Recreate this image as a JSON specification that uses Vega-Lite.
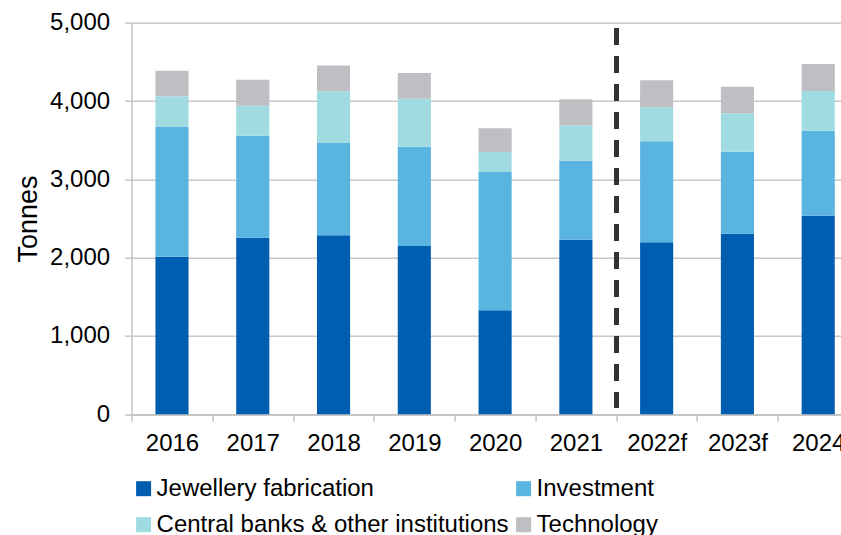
{
  "$schema": "https://vega.github.io/schema/vega-lite/v6.json",
  "width": 727,
  "height": 391.6,
  "autosize": {"type": "none"},
  "padding": {"left": 131.6, "top": 22.7, "right": 0, "bottom": 130},
  "background": "white",
  "config": {
    "font": "Liberation Sans",
    "view": {"stroke": null},
    "axis": {"labelColor": "#000000", "titleColor": "#000000", "labelFont": "Liberation Sans", "titleFont": "Liberation Sans"}
  },
  "data": {
    "values": [
      {"year": "2016", "category": "Jewellery fabrication", "rank": 1, "value": 2012},
      {"year": "2016", "category": "Investment", "rank": 2, "value": 1656},
      {"year": "2016", "category": "Central banks & other institutions", "rank": 3, "value": 392},
      {"year": "2016", "category": "Technology", "rank": 4, "value": 327},
      {"year": "2017", "category": "Jewellery fabrication", "rank": 1, "value": 2255},
      {"year": "2017", "category": "Investment", "rank": 2, "value": 1302},
      {"year": "2017", "category": "Central banks & other institutions", "rank": 3, "value": 383},
      {"year": "2017", "category": "Technology", "rank": 4, "value": 332},
      {"year": "2018", "category": "Jewellery fabrication", "rank": 1, "value": 2285},
      {"year": "2018", "category": "Investment", "rank": 2, "value": 1179},
      {"year": "2018", "category": "Central banks & other institutions", "rank": 3, "value": 660},
      {"year": "2018", "category": "Technology", "rank": 4, "value": 331},
      {"year": "2019", "category": "Jewellery fabrication", "rank": 1, "value": 2149},
      {"year": "2019", "category": "Investment", "rank": 2, "value": 1268},
      {"year": "2019", "category": "Central banks & other institutions", "rank": 3, "value": 613},
      {"year": "2019", "category": "Technology", "rank": 4, "value": 327},
      {"year": "2020", "category": "Jewellery fabrication", "rank": 1, "value": 1328},
      {"year": "2020", "category": "Investment", "rank": 2, "value": 1766},
      {"year": "2020", "category": "Central banks & other institutions", "rank": 3, "value": 255},
      {"year": "2020", "category": "Technology", "rank": 4, "value": 302},
      {"year": "2021", "category": "Jewellery fabrication", "rank": 1, "value": 2229},
      {"year": "2021", "category": "Investment", "rank": 2, "value": 1009},
      {"year": "2021", "category": "Central banks & other institutions", "rank": 3, "value": 452},
      {"year": "2021", "category": "Technology", "rank": 4, "value": 331},
      {"year": "2022f", "category": "Jewellery fabrication", "rank": 1, "value": 2196},
      {"year": "2022f", "category": "Investment", "rank": 2, "value": 1289},
      {"year": "2022f", "category": "Central banks & other institutions", "rank": 3, "value": 434},
      {"year": "2022f", "category": "Technology", "rank": 4, "value": 345},
      {"year": "2023f", "category": "Jewellery fabrication", "rank": 1, "value": 2306},
      {"year": "2023f", "category": "Investment", "rank": 2, "value": 1047},
      {"year": "2023f", "category": "Central banks & other institutions", "rank": 3, "value": 490},
      {"year": "2023f", "category": "Technology", "rank": 4, "value": 339},
      {"year": "2024", "category": "Jewellery fabrication", "rank": 1, "value": 2536},
      {"year": "2024", "category": "Investment", "rank": 2, "value": 1085},
      {"year": "2024", "category": "Central banks & other institutions", "rank": 3, "value": 506},
      {"year": "2024", "category": "Technology", "rank": 4, "value": 345}
    ]
  },
  "encoding": {
    "x": {
      "field": "year",
      "type": "ordinal",
      "sort": null,
      "scale": {"paddingInner": 0, "paddingOuter": 0},
      "axis": {
        "title": null,
        "labelAngle": 0,
        "labelFontSize": 24,
        "labelPadding": 10,
        "tickBand": "extent",
        "tickSize": 7,
        "tickColor": "#c4c4c4",
        "tickWidth": 1.5,
        "domainColor": "#c4c4c4",
        "domainWidth": 1.5,
        "grid": false
      }
    }
  },
  "layer": [
    {
      "mark": {"type": "bar", "width": {"band": 0.41}},
      "encoding": {
        "y": {
          "field": "value",
          "type": "quantitative",
          "stack": "zero",
          "scale": {"domain": [0, 5000], "nice": false},
          "axis": {
            "title": "Tonnes",
            "titleFontSize": 27,
            "titleFontWeight": "normal",
            "titlePadding": 7,
            "values": [0, 1000, 2000, 3000, 4000, 5000],
            "format": ",d",
            "labelFontSize": 24,
            "labelPadding": 15,
            "tickSize": 7,
            "tickColor": "#c4c4c4",
            "tickWidth": 1.5,
            "domainColor": "#c4c4c4",
            "domainWidth": 1.5,
            "gridColor": "#c8c8c8",
            "gridWidth": 1.5
          }
        },
        "color": {
          "field": "category",
          "type": "nominal",
          "sort": ["Jewellery fabrication", "Investment", "Central banks & other institutions", "Technology"],
          "scale": {
            "domain": ["Jewellery fabrication", "Investment", "Central banks & other institutions", "Technology"],
            "range": ["#005EB0", "#5AB4E0", "#A0DBE1", "#BDBFC2"]
          },
          "legend": {
            "title": null,
            "orient": "none",
            "legendX": 0,
            "legendY": 454,
            "direction": "horizontal",
            "columns": 2,
            "columnPadding": 2,
            "rowPadding": 12,
            "padding": 0,
            "symbolType": "square",
            "symbolSize": 225,
            "symbolStrokeWidth": 0,
            "labelOffset": 1,
            "labelFontSize": 24,
            "labelColor": "#000000",
            "labelLimit": 500
          }
        },
        "order": {"field": "rank", "type": "quantitative", "sort": "ascending"}
      }
    },
    {
      "mark": {"type": "rule", "color": "#333333", "strokeWidth": 4, "strokeDash": [16, 12]},
      "encoding": {
        "x": {"datum": "2022f", "bandPosition": 0},
        "y": {"datum": 4930, "type": "quantitative"},
        "y2": {"datum": 80}
      }
    }
  ]
}
